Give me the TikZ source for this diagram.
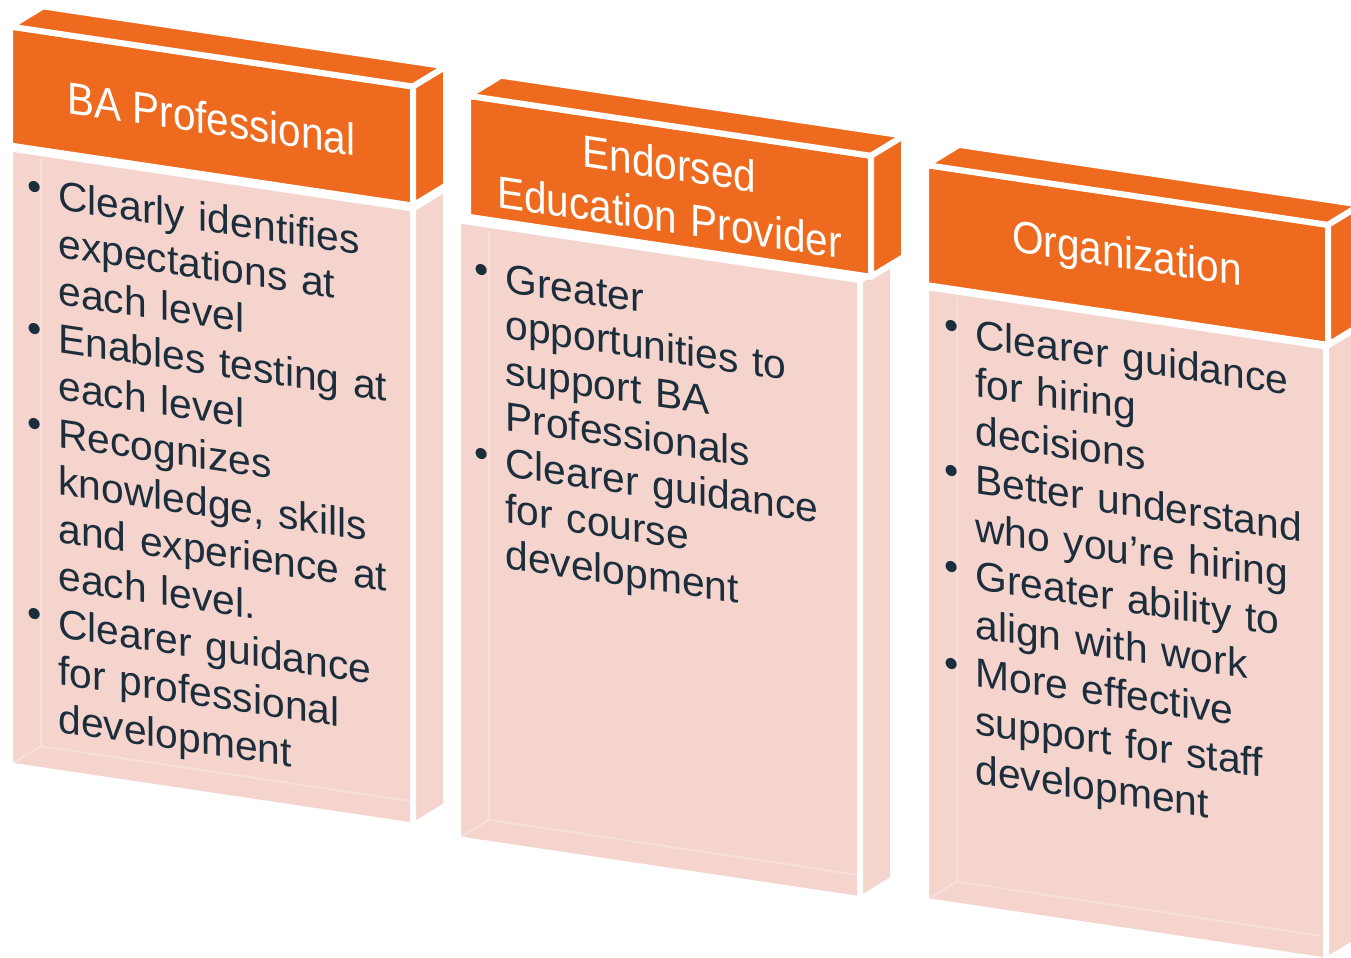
\documentclass[tikz,border=0pt]{standalone}
\usepackage{fontspec}
\setmainfont{Liberation Sans}
\usepackage{xcolor}

\definecolor{baorange}{HTML}{EE6A1F}
\definecolor{bapink}{HTML}{F5D4CE}
\definecolor{banavy}{HTML}{1C2E3B}

\newcommand{\babullet}{\noindent\hangindent=15.5pt\hangafter=1\makebox[15.5pt][l]{\raisebox{2.8pt}{\textbullet}}}

\begin{document}
\begin{tikzpicture}[x=0.5pt,y=-0.5pt,
  head/.style={fill=baorange,draw=white,line width=3pt,line join=round},
  body/.style={fill=bapink,draw=white,line width=3pt,line join=round},
  ghost/.style={draw=white,opacity=0.25,line width=1pt},
  headtext/.style={text=white,inner sep=0pt,xscale=0.9,anchor=base,
    font=\fontsize{22.5pt}{26.5pt}\selectfont},
  itemtext/.style={text=banavy,inner sep=0pt,text width=220pt,align=left,anchor=base west,
    font=\fontsize{20.4pt}{#1}\selectfont}]
\useasboundingbox (0,0) rectangle (1351,958);
\clip (0,0) rectangle (1351,958);

\begin{scope}[yslant=-0.149,transform shape]
% BA Professional
\filldraw[body] (10,147) rectangle (413,764);
\filldraw[body] (413,147) -- ++(33,-25) -- ++(0,617) -- (413,764) -- cycle;
\draw[ghost] (13,761) -- (41,740) -- (41,152);
\draw[ghost] (41,740) -- (410,740);
\filldraw[head] (10,25) rectangle (413,144);
\filldraw[head] (10,25) -- ++(33,-25) -- ++(403,0) -- (413,25) -- cycle;
\filldraw[head] (413,25) -- ++(33,-25) -- ++(0,119) -- (413,144) -- cycle;

% Endorsed Education Provider
\filldraw[body] (458,152) rectangle (860,771);
\filldraw[body] (860,152) -- ++(33,-25) -- ++(0,619) -- (860,771) -- cycle;
\draw[ghost] (461,768) -- (489,747) -- (489,158);
\draw[ghost] (489,747) -- (857,747);
\filldraw[head] (468,26) rectangle (871,147);
\filldraw[head] (468,26) -- ++(33,-25) -- ++(403,0) -- (871,26) -- cycle;
\filldraw[head] (871,26) -- ++(33,-25) -- ++(0,121) -- (871,147) -- cycle;

% Organization
\filldraw[body] (926,149) rectangle (1326,763);
\filldraw[body] (1326,149) -- ++(33,-25) -- ++(0,614) -- (1326,763) -- cycle;
\draw[ghost] (929,760) -- (957,739) -- (957,155);
\draw[ghost] (957,739) -- (1323,739);
\filldraw[head] (926,27) rectangle (1328,147);
\filldraw[head] (926,27) -- ++(33,-25) -- ++(402,0) -- (1328,27) -- cycle;
\filldraw[head] (1328,27) -- ++(33,-25) -- ++(0,120) -- (1328,147) -- cycle;

\node[headtext] (prohead) at (211.5,103) {BA Professional};
\node[headtext,text width=200pt,align=center] (eduhead) at (669.5,80) {Endorsed\\Education Provider};
\node[headtext] (orghead) at (1127,101) {Organization};

\node[itemtext=23.75pt] (proitems) at (27,201) {%
\babullet Clearly identifies\newline expectations at\newline each level\par
\babullet Enables testing at\newline each level\par
\babullet Recognizes\newline knowledge, skills\newline and experience at\newline each level.\par
\babullet Clearer guidance\newline for professional\newline development\par};
\node[itemtext=23pt] (eduitems) at (474,217) {%
\babullet Greater\newline opportunities to\newline support BA\newline Professionals\par
\babullet Clearer guidance\newline for course\newline development\par};
\node[itemtext=24.15pt] (orgitems) at (944,203) {%
\babullet Clearer guidance\newline for hiring\newline decisions\par
\babullet Better understand\newline who you’re hiring\par
\babullet Greater ability to\newline align with work\par
\babullet More effective\newline support for staff\newline development\par};
\end{scope}
\end{tikzpicture}
\end{document}
